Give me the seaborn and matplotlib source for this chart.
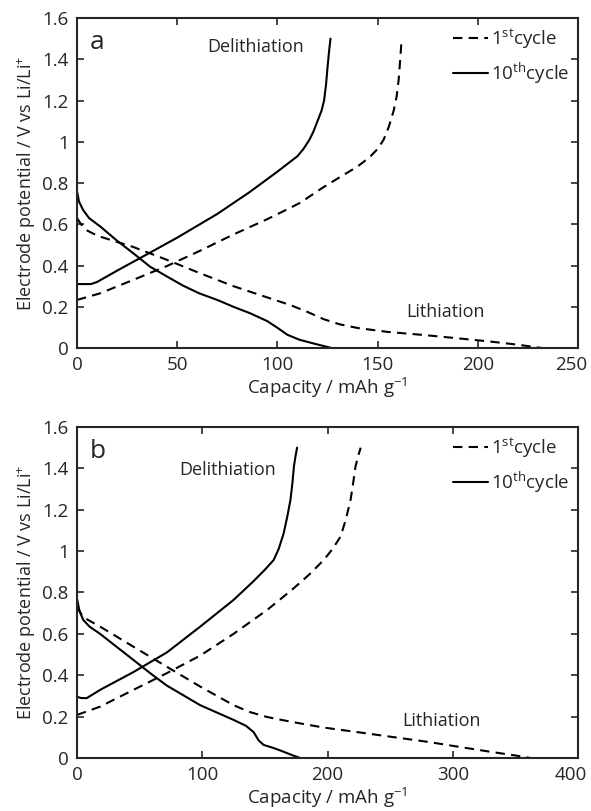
import numpy as np
import pandas as pd
import matplotlib
matplotlib.use("Agg")
import matplotlib.pyplot as plt
import matplotlib.transforms as mtransforms
import seaborn as sns

# ---- panel a: capacity (mAh/g) vs potential (V) ----
a_del1_cap = [0, 11.5, 28, 45, 61.5, 78, 95, 106.5, 111.5, 123, 134, 140, 146, 150, 153,
              155.5, 158, 159.5, 160.5, 161.3, 162]
a_del1_v = [0.233, 0.265, 0.33, 0.398, 0.472, 0.55, 0.625, 0.68, 0.705, 0.78, 0.845, 0.88,
            0.925, 0.965, 1.01, 1.07, 1.15, 1.22, 1.30, 1.40, 1.5]
a_del10_cap = [0, 7, 10, 20, 36, 50, 70, 86, 100, 110, 113, 116, 118, 120, 122, 123.3,
               124.3, 125, 125.8, 126.5]
a_del10_v = [0.31, 0.31, 0.32, 0.375, 0.46, 0.535, 0.65, 0.755, 0.855, 0.93, 0.965, 1.01,
             1.05, 1.1, 1.15, 1.2, 1.28, 1.36, 1.44, 1.5]
a_lit1_cap = [0, 2, 5, 8, 11.5, 28, 45, 61.5, 78, 95, 106.5, 115, 123, 131, 140, 155,
              173, 190, 206.5, 220, 228, 232]
a_lit1_v = [0.63, 0.60, 0.57, 0.555, 0.54, 0.49, 0.427, 0.362, 0.3, 0.245, 0.208, 0.175,
            0.14, 0.115, 0.097, 0.078, 0.063, 0.047, 0.031, 0.016, 0.005, 0.0]
a_lit10_cap = [0, 1, 3, 6, 11.5, 20, 28, 36.5, 45, 53, 61, 70, 78, 86.5, 95, 100, 105,
               111, 118, 127]
a_lit10_v = [0.76, 0.71, 0.67, 0.63, 0.59, 0.52, 0.46, 0.394, 0.346, 0.302, 0.265, 0.233,
             0.2, 0.168, 0.13, 0.098, 0.064, 0.04, 0.022, 0.0]

# ---- panel b ----
b_del1_cap = [0, 18.4, 45, 71.7, 98.4, 125, 151.7, 172, 186, 197, 204, 210.4, 214.5,
              218.4, 220.5, 222.4, 224.5, 226.5]
b_del1_v = [0.208, 0.248, 0.329, 0.41, 0.495, 0.60, 0.715, 0.815, 0.89, 0.957, 1.01, 1.07,
            1.15, 1.247, 1.33, 1.41, 1.46, 1.5]
b_del10_cap = [0, 3, 7.7, 12, 18.4, 45, 71.7, 98.4, 125, 141, 150, 157, 161, 165, 168,
               170.4, 172, 173.2, 174.5, 175.7]
b_del10_v = [0.296, 0.29, 0.289, 0.305, 0.329, 0.415, 0.51, 0.635, 0.764, 0.855, 0.91,
             0.957, 1.01, 1.086, 1.17, 1.247, 1.33, 1.41, 1.46, 1.5]
b_lit1_cap = [0, 5, 18.4, 45, 71.7, 98.4, 125, 138, 151.7, 165, 180, 197, 225, 250, 280,
              303.7, 330, 350, 362]
b_lit1_v = [0.73, 0.68, 0.635, 0.538, 0.441, 0.345, 0.255, 0.222, 0.198, 0.182, 0.165,
            0.147, 0.124, 0.103, 0.078, 0.055, 0.03, 0.012, 0.0]
b_lit10_cap = [0, 2, 5, 10, 18.4, 45, 58.4, 71.7, 98.4, 125, 135, 141, 145, 149, 157,
               165, 172, 178]
b_lit10_v = [0.77, 0.71, 0.667, 0.635, 0.60, 0.474, 0.41, 0.35, 0.255, 0.184, 0.155,
             0.125, 0.085, 0.063, 0.048, 0.03, 0.013, 0.0]

y_ticks = [0, 0.2, 0.4, 0.6, 0.8, 1, 1.2, 1.4, 1.6]
y_ticklabels = ["0", "0.2", "0.4", "0.6", "0.8", "1", "1.2", "1.4", "1.6"]
a_xticks = [0, 50, 100, 150, 200, 250]
b_xticks = [0, 100, 200, 300, 400]

sns.set_style("ticks")
plt.rcParams["font.family"] = ["Open Sans", "DejaVu Sans"]
plt.rcParams["mathtext.fontset"] = "custom"
plt.rcParams["mathtext.rm"] = "Open Sans"
plt.rcParams["mathtext.it"] = "Open Sans"

fig = plt.figure(figsize=(5.91, 8.11), dpi=100)
ax_a = fig.add_axes([0.1303, 0.5709, 0.8477, 0.4069])
ax_b = fig.add_axes([0.1303, 0.0654, 0.8477, 0.4081])

dash = (0, (4.5, 3))


def branch(ax, cap, v, ls, label=None):
    df = pd.DataFrame({"cap": cap, "v": v})
    sns.lineplot(data=df, x="cap", y="v", ax=ax, sort=False, estimator=None,
                 color="black", linewidth=1.5, linestyle=ls, label=label)


def panel(ax, d1, d10, l1, l10, xmax, xticks, letter, del_xy, lit_xy):
    branch(ax, d1[0], d1[1], dash, r"$1^{\rm st}$cycle")
    branch(ax, d10[0], d10[1], "-", r"$10^{\rm th}$cycle")
    branch(ax, l1[0], l1[1], dash)
    branch(ax, l10[0], l10[1], "-")
    ax.set_xlim(0, xmax)
    ax.set_ylim(0, 1.6)
    ax.set_xticks(xticks)
    ax.set_xticklabels([str(t) for t in xticks])
    ax.set_yticks(y_ticks)
    ax.set_yticklabels(y_ticklabels)
    ax.tick_params(direction="in", top=True, right=True, length=5, width=1.2,
                   labelsize=13.5, pad=6)
    # last x label sits a little left, as in the original
    last = ax.get_xticklabels()[-1]
    last.set_transform(last.get_transform() +
                       mtransforms.ScaledTranslation(-5 / 72, 0, fig.dpi_scale_trans))
    for s in ax.spines.values():
        s.set_linewidth(1.5)
    ax.set_xlabel(r"Capacity / mAh g$^{-1}$", fontsize=13.5, labelpad=1)
    ax.set_ylabel(r"Electrode potential / V vs Li/Li$^{+}$", fontsize=13, labelpad=3)
    ax.text(0.025, 0.965, letter, transform=ax.transAxes, fontsize=19, va="top")
    ax.text(del_xy[0], del_xy[1], "Delithiation", fontsize=13, ha="center", va="center")
    ax.text(lit_xy[0], lit_xy[1], "Lithiation", fontsize=13, ha="center", va="center")
    ax.legend(loc="upper right", frameon=False, fontsize=13.5, handlelength=1.9,
              handletextpad=0.15, borderaxespad=0.1, labelspacing=0.55,
              borderpad=0.35)


panel(ax_a, (a_del1_cap, a_del1_v), (a_del10_cap, a_del10_v),
      (a_lit1_cap, a_lit1_v), (a_lit10_cap, a_lit10_v),
      250, a_xticks, "a", (89, 1.46), (184, 0.175))
panel(ax_b, (b_del1_cap, b_del1_v), (b_del10_cap, b_del10_v),
      (b_lit1_cap, b_lit1_v), (b_lit10_cap, b_lit10_v),
      400, b_xticks, "b", (120, 1.39), (291, 0.18))

fig.savefig("out.png", dpi=100)
